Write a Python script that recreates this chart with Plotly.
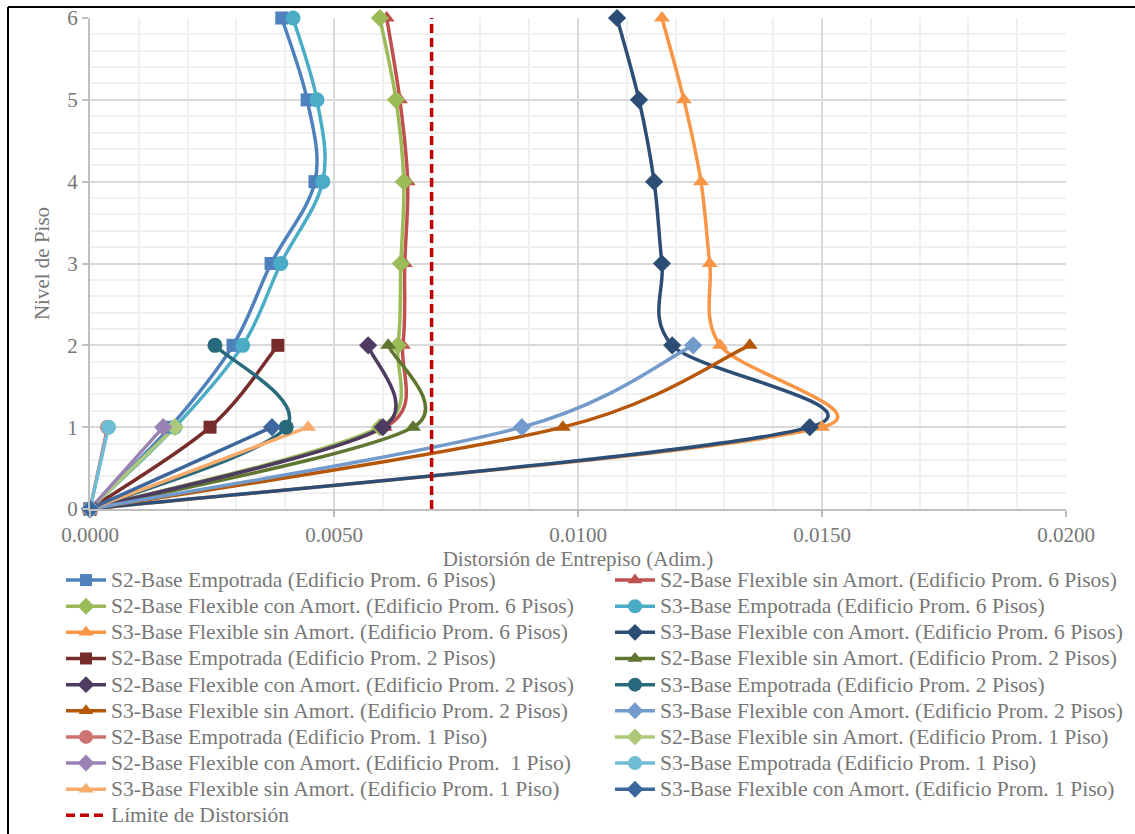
import math
import plotly.graph_objects as go

# Story levels
levels_6 = [0, 1, 2, 3, 4, 5, 6]
levels_2 = [0, 1, 2]
levels_1 = [0, 1]

# Inter-story drift (dimensionless) per level
s2_emp_6 = [0, 0.00164, 0.00293, 0.00371, 0.00461, 0.00445, 0.00393]
s2_fsa_6 = [0, 0.00604, 0.00641, 0.00645, 0.00651, 0.00635, 0.00608]
s2_fca_6 = [0, 0.00594, 0.00631, 0.00637, 0.00643, 0.00627, 0.00594]
s3_emp_6 = [0, 0.00174, 0.00313, 0.00391, 0.00477, 0.00465, 0.00416]
s3_fsa_6 = [0, 0.01500, 0.01291, 0.01270, 0.01252, 0.01217, 0.01172]
s3_fca_6 = [0, 0.01475, 0.01193, 0.01172, 0.01156, 0.01125, 0.01080]

s2_emp_2 = [0, 0.00246, 0.00385]
s2_fsa_2 = [0, 0.00662, 0.00611]
s2_fca_2 = [0, 0.00600, 0.00570]
s3_emp_2 = [0, 0.00402, 0.00256]
s3_fsa_2 = [0, 0.00969, 0.01352]
s3_fca_2 = [0, 0.00885, 0.01236]

s2_emp_1 = [0, 0.00036]
s2_fsa_1 = [0, 0.00174]
s2_fca_1 = [0, 0.00150]
s3_emp_1 = [0, 0.00038]
s3_fsa_1 = [0, 0.00447]
s3_fca_1 = [0, 0.00373]

drift_limit = 0.007
limit_name = "Límite de Distorsión"

x_range = [0, 0.02]
y_range = [0, 6]

series = [
    ("S2-Base Empotrada (Edificio Prom. 6 Pisos)", s2_emp_6, levels_6, "#4F81BD", "square", 13),
    ("S2-Base Flexible sin Amort. (Edificio Prom. 6 Pisos)", s2_fsa_6, levels_6, "#C0504D", "triangle-up", 14),
    ("S2-Base Flexible con Amort. (Edificio Prom. 6 Pisos)", s2_fca_6, levels_6, "#9BBB59", "diamond", 14),
    ("S3-Base Empotrada (Edificio Prom. 6 Pisos)", s3_emp_6, levels_6, "#4BACC6", "circle", 15),
    ("S3-Base Flexible sin Amort. (Edificio Prom. 6 Pisos)", s3_fsa_6, levels_6, "#F79646", "triangle-up", 14),
    ("S3-Base Flexible con Amort. (Edificio Prom. 6 Pisos)", s3_fca_6, levels_6, "#2C4D75", "diamond", 14),
    ("S2-Base Empotrada (Edificio Prom. 2 Pisos)", s2_emp_2, levels_2, "#772C2A", "square", 13),
    ("S2-Base Flexible sin Amort. (Edificio Prom. 2 Pisos)", s2_fsa_2, levels_2, "#5F7530", "triangle-up", 14),
    ("S2-Base Flexible con Amort. (Edificio Prom. 2 Pisos)", s2_fca_2, levels_2, "#4D3B62", "diamond", 14),
    ("S3-Base Empotrada (Edificio Prom. 2 Pisos)", s3_emp_2, levels_2, "#276A7C", "circle", 15),
    ("S3-Base Flexible sin Amort. (Edificio Prom. 2 Pisos)", s3_fsa_2, levels_2, "#B65708", "triangle-up", 14),
    ("S3-Base Flexible con Amort. (Edificio Prom. 2 Pisos)", s3_fca_2, levels_2, "#729ACA", "diamond", 14),
    ("S2-Base Empotrada (Edificio Prom. 1 Piso)", s2_emp_1, levels_1, "#CD7371", "circle", 15),
    ("S2-Base Flexible sin Amort. (Edificio Prom. 1 Piso)", s2_fsa_1, levels_1, "#AFC97A", "diamond", 14),
    ("S2-Base Flexible con Amort. (Edificio Prom.  1 Piso)", s2_fca_1, levels_1, "#9983B5", "diamond", 14),
    ("S3-Base Empotrada (Edificio Prom. 1 Piso)", s3_emp_1, levels_1, "#6FBDD4", "circle", 15),
    ("S3-Base Flexible sin Amort. (Edificio Prom. 1 Piso)", s3_fsa_1, levels_1, "#F9AB6B", "triangle-up", 14),
    ("S3-Base Flexible con Amort. (Edificio Prom. 1 Piso)", s3_fca_1, levels_1, "#3C679C", "diamond", 14),
]

FONT = "Liberation Serif, Times New Roman, serif"
GREY = "#777777"
LEGEND_TEXT_PX = 21.5
LINE_W = 3.5
TENSION = 1 / 6      # Catmull-Rom style smoothing of the drift profiles
MAX_ARM = 0.5        # control arm limited to half of its segment length

PLOT_W, PLOT_H = 976, 491
SX = PLOT_W / (x_range[1] - x_range[0])   # px per drift unit
SY = PLOT_H / (y_range[1] - y_range[0])   # px per level


def legend_label(text):
    # larger glyphs while keeping the compact row pitch of the legend font
    return f'<span style="font-size:{LEGEND_TEXT_PX}px">{text}</span>'


def smooth_path(xs, ys):
    """Cubic Bezier SVG path (data coordinates) through every point."""
    pts = [(x * SX, y * SY) for x, y in zip(xs, ys)]   # screen-proportional space
    n = len(pts)

    def arm(dx, dy, seg):
        vx, vy = dx * TENSION, dy * TENSION
        length = math.hypot(vx, vy)
        limit = MAX_ARM * seg
        if length > limit and length > 0:
            vx, vy = vx * limit / length, vy * limit / length
        return vx, vy

    fmt = lambda p: f"{p[0] / SX:.8f},{p[1] / SY:.6f}"
    path = "M " + fmt(pts[0])
    for i in range(n - 1):
        p0 = pts[i - 1] if i > 0 else pts[i]
        p1, p2 = pts[i], pts[i + 1]
        p3 = pts[i + 2] if i + 2 < n else pts[i + 1]
        seg = math.hypot(p2[0] - p1[0], p2[1] - p1[1])
        a1 = arm(p2[0] - p0[0], p2[1] - p0[1], seg)
        a2 = arm(p3[0] - p1[0], p3[1] - p1[1], seg)
        c1 = (p1[0] + a1[0], p1[1] + a1[1])
        c2 = (p2[0] - a2[0], p2[1] - a2[1])
        path += f" C {fmt(c1)} {fmt(c2)} {fmt(p2)}"
    return path


fig = go.Figure()

for i, (name, xs, ys, color, symbol, size) in enumerate(series):
    legend_id = "legend" if i % 2 == 0 else "legend2"
    group = f"g{i}"
    # smoothed profile line
    fig.add_shape(type="path", xref="x", yref="y", path=smooth_path(xs, ys),
                  line=dict(color=color, width=LINE_W), layer="between")
    # data points
    fig.add_trace(go.Scatter(
        x=xs, y=ys, name=name, mode="markers",
        marker=dict(symbol=symbol, size=size, color=color),
        cliponaxis=False, showlegend=False, legendgroup=group,
        legend=legend_id,
    ))
    # legend key (line + marker)
    fig.add_trace(go.Scatter(
        x=[None], y=[None], name=legend_label(name), mode="lines+markers",
        line=dict(color=color, width=LINE_W),
        marker=dict(symbol=symbol, size=size - 1, color=color),
        legendgroup=group, legend=legend_id,
    ))

# Allowable drift limit
fig.add_trace(go.Scatter(
    x=[drift_limit, drift_limit], y=[0, 6], name=legend_label(limit_name),
    mode="lines", line=dict(color="#C00000", width=3.5, dash="9px,5px"),
    legend="legend",
))

legend_common = dict(
    orientation="v", yanchor="top", xanchor="left",
    y=(509 - 562) / PLOT_H, itemwidth=40,
    font=dict(family=FONT, size=17.8, color=GREY),
    bgcolor="rgba(0,0,0,0)", tracegroupgap=0,
)

fig.update_layout(
    width=1135, height=834,
    margin=dict(l=90, r=69, t=18, b=325, autoexpand=False),
    paper_bgcolor="white", plot_bgcolor="white",
    font=dict(family=FONT, size=21, color=GREY),
    showlegend=True,
    legend=dict(x=(61 - 90) / PLOT_W, **legend_common),
    legend2=dict(x=(610 - 90) / PLOT_W, **legend_common),
)

fig.update_xaxes(
    range=x_range, dtick=0.005, tickformat=".4f",
    showgrid=True, gridcolor="#D9D9D9", gridwidth=2,
    minor=dict(dtick=0.001, showgrid=True, gridcolor="#F0F0F0", gridwidth=2),
    showline=True, linecolor="#BFBFBF", linewidth=2,
    ticks="outside", ticklen=6, tickcolor="#BFBFBF", tickwidth=2,
    tickfont=dict(family=FONT, size=21, color=GREY),
    zeroline=False, automargin=False,
    title=dict(text="Distorsión de Entrepiso (Adim.)", standoff=5,
               font=dict(family=FONT, size=21, color=GREY)),
)
fig.update_yaxes(
    range=y_range, dtick=1,
    showgrid=True, gridcolor="#D9D9D9", gridwidth=2,
    minor=dict(dtick=0.2, showgrid=True, gridcolor="#F0F0F0", gridwidth=2),
    showline=True, linecolor="#BFBFBF", linewidth=2,
    ticks="outside", ticklen=6, tickcolor="#BFBFBF", tickwidth=2,
    tickfont=dict(family=FONT, size=21, color=GREY),
    zeroline=False, automargin=False,
    title=dict(text="Nivel de Piso", standoff=12,
               font=dict(family=FONT, size=21, color=GREY)),
)

# Chart frame (top and left edges)
frame_x = -82 / PLOT_W
frame_y = 1 + 11 / PLOT_H
fig.add_shape(type="line", xref="paper", yref="paper",
              x0=frame_x, x1=1.1, y0=frame_y, y1=frame_y,
              line=dict(color="black", width=2))
fig.add_shape(type="line", xref="paper", yref="paper",
              x0=frame_x, x1=frame_x, y0=frame_y, y1=-0.7,
              line=dict(color="black", width=2))

fig.write_html("out.html")
